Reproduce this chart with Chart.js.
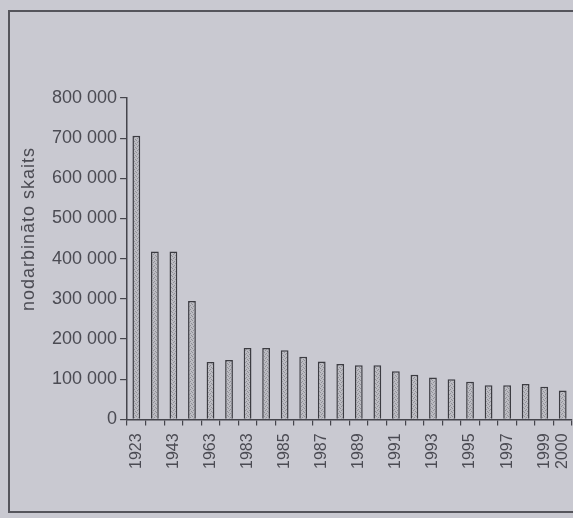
<!DOCTYPE html>
<html>
<head>
<meta charset="utf-8">
<script src="https://cdn.jsdelivr.net/npm/chart.js@4/dist/chart.umd.min.js"></script>
<style>
    html, body { margin: 0; padding: 0; background: #c9c9d1; }
    #wrap { position: relative; width: 573px; height: 518px; overflow: hidden; }
    #frame {
        position: absolute; left: 8px; top: 10px; width: 600px; height: 503px;
        border: 2px solid #55555c; box-sizing: border-box;
    }
    canvas { position: absolute; left: 0; top: 0; }
</style>
</head>
<body>
<div id="wrap">
    <div id="frame"></div>
    <canvas id="chart" width="573" height="518"></canvas>
</div>
<script>
// Gadi (kategorijas) un nodarbinato skaits
const years = [
    "1923", "1933", "1943", "1953", "1963", "1973", "1983", "1984",
    "1985", "1986", "1987", "1988", "1989", "1990", "1991", "1992",
    "1993", "1994", "1995", "1996", "1997", "1998", "1999", "2000"
];
const shownYears = [
    "1923", "1943", "1963", "1983", "1985", "1987", "1989",
    "1991", "1993", "1995", "1997", "1999", "2000"
];
const employed = [
    706000, 418000, 418000, 295000, 143000, 148000, 178000, 178000,
    172000, 156000, 144000, 138000, 135000, 135000, 120000, 111000,
    104000, 100000, 94000, 85000, 85000, 88000, 81000, 72000
];
const yTicks = [0, 100000, 200000, 300000, 400000, 500000, 600000, 700000, 800000];
const yTitle = "nodarbināto skaits";

const inkColor = "#45454c";
const textColor = "#4b4b53";

// punktains pildijums stabiem
function makeStipple() {
    const c = document.createElement("canvas");
    c.width = 4; c.height = 4;
    const g = c.getContext("2d");
    g.fillStyle = "#bcbcc2";
    g.fillRect(0, 0, 4, 4);
    g.fillStyle = "#909097";
    g.fillRect(0, 0, 1, 1);
    g.fillRect(2, 1, 1, 1);
    g.fillRect(1, 2, 1, 1);
    g.fillRect(3, 3, 1, 1);
    return g.createPattern(c, "repeat");
}

const formatThousands = (v) => v === 0 ? "0" : String(v).replace(/\B(?=(\d{3})+(?!\d))/g, " ");

const yTitlePlugin = {
    id: "yTitle",
    afterDraw(chart) {
        const ctx = chart.ctx;
        ctx.save();
        ctx.translate(29, 229);
        ctx.rotate(-Math.PI / 2);
        ctx.font = "18px 'Liberation Sans', Arial, sans-serif";
        ctx.letterSpacing = "1px";
        ctx.fillStyle = textColor;
        ctx.textAlign = "center";
        ctx.textBaseline = "middle";
        ctx.fillText(yTitle, 0, 0);
        ctx.restore();
    }
};

const canvas = document.querySelector("#chart");

new Chart(canvas, {
    type: "bar",
    data: {
        labels: years,
        datasets: [{
            data: employed,
            backgroundColor: makeStipple(),
            borderColor: "#3c3c42",
            borderWidth: 1.5,
            borderSkipped: "bottom",
            barPercentage: 0.42,
            categoryPercentage: 1
        }]
    },
    options: {
        responsive: false,
        animation: false,
        events: [],
        layout: { padding: { left: 49, right: 1, top: 98, bottom: 41 } },
        plugins: {
            legend: { display: false },
            tooltip: { enabled: false }
        },
        scales: {
            x: {
                afterFit: (scale) => { scale.paddingRight = 0; scale.paddingLeft = 0; },
                grid: {
                    display: true,
                    drawOnChartArea: false,
                    drawTicks: true,
                    tickLength: 6,
                    offset: true,
                    color: inkColor,
                    lineWidth: 1.2
                },
                border: { display: true, color: inkColor, width: 1.5 },
                ticks: {
                    color: textColor,
                    font: { family: "'Liberation Sans', Arial, sans-serif", size: 16 },
                    minRotation: 90,
                    maxRotation: 90,
                    autoSkip: false,
                    padding: 8,
                    callback: (value, index) => shownYears.includes(years[index]) ? years[index] : ""
                }
            },
            y: {
                min: 0,
                max: 800000,
                afterBuildTicks: (axis) => { axis.ticks = yTicks.map((v) => ({ value: v })); },
                grid: {
                    display: true,
                    drawOnChartArea: false,
                    drawTicks: true,
                    tickLength: 7,
                    color: inkColor,
                    lineWidth: 1.2
                },
                border: { display: true, color: inkColor, width: 1.5 },
                ticks: {
                    color: textColor,
                    font: { family: "'Liberation Sans', Arial, sans-serif", size: 18 },
                    padding: 3,
                    callback: (value) => formatThousands(value)
                }
            }
        }
    },
    plugins: [yTitlePlugin]
});
</script>
</body>
</html>
